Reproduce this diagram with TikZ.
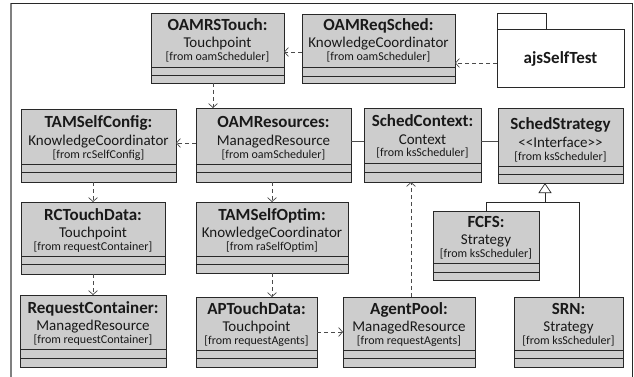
\documentclass[tikz,border=0pt]{standalone}
\usepackage{fontspec}
\setmainfont{Carlito}
\usetikzlibrary{arrows.meta}
\definecolor{boxfill}{RGB}{205,205,205}
\definecolor{boxline}{RGB}{40,40,40}
\definecolor{conn}{RGB}{75,75,75}
\definecolor{txtcol}{RGB}{25,25,25}
\tikzset{
 clsbox/.style={draw=boxline, fill=boxfill, line width=0.8pt, rectangle, inner sep=0pt, outer sep=0pt, anchor=north west},
 pkgbox/.style={draw=boxline, fill=white, line width=0.8pt, rectangle, inner sep=0pt, outer sep=0pt, anchor=north west},
 ttltxt/.style={anchor=base, inner sep=0pt, text=txtcol, font=\fontsize{17}{20}\selectfont\bfseries},
 subtxt/.style={anchor=base, inner sep=0pt, text=txtcol, font=\fontsize{15}{18}\selectfont},
 frmtxt/.style={anchor=base, inner sep=0pt, text=txtcol, font=\fontsize{12}{14}\selectfont},
 dep/.style={draw=conn, line width=0.7pt, dash pattern=on 4pt off 3pt, -{Straight Barb[length=4pt,width=9pt]}},
 assoc/.style={draw=conn, line width=0.7pt},
 gen/.style={draw=boxline, line width=0.7pt, -{Triangle[open,length=10pt,width=13pt]}},
}
\newcommand\umlbox[7]{%
 \node[clsbox, minimum width={(#4-#2)*1pt}, minimum height={(#7-#3)*1pt}] (#1) at (#2,#3) {};
 \draw[boxline, line width=0.8pt] (#2,#5) -- (#4,#5) (#2,#6) -- (#4,#6);
 \coordinate (#1-s) at ({(#2+#4)/2},#5);
}
\newcommand\umltext[4]{%
 \node[ttltxt] (#1-t) at ([yshift=36pt]#1-s) {#2};
 \node[subtxt] (#1-u) at ([yshift=19pt]#1-s) {#3};
 \node[frmtxt] (#1-f) at ([yshift=6pt]#1-s) {#4};
}
\begin{document}
\begin{tikzpicture}[x=1pt, y=-1pt]
\useasboundingbox (0,0) rectangle (634,377);
% frame
\draw[gray, line width=1.3pt] (11,377) -- (11,3);
\draw[boxline, line width=0.8pt] (11,3) -- (632,3) -- (632,377);

% class boxes
\umlbox{oamrs}{151}{13}{284}{67}{75}{83}
\umltext{oamrs}{OAMRSTouch:}{Touchpoint}{[from oamScheduler]}
\umlbox{oamreq}{302}{14}{455}{67}{76}{83}
\umltext{oamreq}{OAMReqSched:}{KnowledgeCoordinator}{[from oamScheduler]}
\umlbox{tamcfg}{21}{109}{176}{164}{172}{182}
\umltext{tamcfg}{TAMSelfConfig:}{KnowledgeCoordinator}{[from rcSelfConfig]}
\umlbox{oamres}{196}{108}{351}{164}{172}{182}
\umltext{oamres}{OAMResources:}{ManagedResource}{[from oamScheduler]}
\umlbox{sctx}{364}{108}{481}{163}{172}{182}
\umltext{sctx}{SchedContext:}{Context}{[from ksScheduler]}
\umlbox{sstrat}{498}{108}{623}{166}{174}{183}
\umltext{sstrat}{SchedStrategy}{{<}{<}Interface{>}{>}}{[from ksScheduler]}
\umlbox{rctouch}{21}{202}{165}{256}{264}{274}
\umltext{rctouch}{RCTouchData:}{Touchpoint}{[from requestContainer]}
\umlbox{tamopt}{196}{202}{348}{256}{264}{273}
\umltext{tamopt}{TAMSelfOptim:}{KnowledgeCoordinator}{[from raSelfOptim]}
\umlbox{fcfs}{433}{211}{539}{263}{272}{280}
\umltext{fcfs}{FCFS:}{Strategy}{[from ksScheduler]}
\umlbox{reqc}{20}{295}{166}{349}{358}{367}
\umltext{reqc}{RequestContainer:}{ManagedResource}{[from requestContainer]}
\umlbox{aptouch}{196}{297}{317}{350}{358}{367}
\umltext{aptouch}{APTouchData:}{Touchpoint}{[from requestAgents]}
\umlbox{agent}{343}{297}{475}{350}{358}{367}
\umltext{agent}{AgentPool:}{ManagedResource}{[from requestAgents]}
\umlbox{srn}{514}{297}{623}{350}{358}{367}
\umltext{srn}{SRN:}{Strategy}{[from ksScheduler]}

% package
\node[pkgbox, minimum width=49pt, minimum height=16pt] (ajstab) at (497,13) {};
\node[pkgbox, minimum width=127pt, minimum height=58pt] (ajs) at (497,29) {};
\node[inner sep=0pt, text=txtcol, font=\fontsize{17}{20}\selectfont\bfseries] (ajslabel) at ([yshift=-1pt]ajs.center) {ajsSelfTest};

% connectors
\coordinate (c1) at ([yshift=-5pt]ajs.west);
\draw[dep] (c1) -- (c1 -| oamreq.east);
\coordinate (c2) at ([yshift=-3.5pt]oamreq.west);
\draw[dep] (c2) -- (c2 -| oamrs.east);
\coordinate (c3) at ([xshift=-4.5pt]oamrs.south);
\draw[dep] (c3) -- (c3 |- oamres.north);
\coordinate (c4) at ([yshift=2pt]oamres.west);
\draw[dep] (c4) -- (c4 -| tamcfg.east);
\coordinate (c5) at ([yshift=4pt]oamres.east);
\draw[assoc] (c5) -- (c5 -| sctx.west);
\coordinate (c6) at ([yshift=4pt]sctx.east);
\draw[assoc] (c6) -- (c6 -| sstrat.west);
\draw[dep] (rctouch.north |- tamcfg.south) -- (rctouch.north);
\draw[dep] (rctouch.south) -- (rctouch.south |- reqc.north);
\draw[dep] (tamopt.north |- oamres.south) -- (tamopt.north);
\draw[dep] (tamopt.south) -- (tamopt.south |- aptouch.north);
\draw[dep] (aptouch.east) -- (aptouch.east -| agent.west);
\coordinate (c7) at ([xshift=2pt]agent.north);
\draw[dep] (c7) -- (c7 |- sctx.south);
% generalization
\coordinate (gtop) at ([xshift=-15.5pt]sstrat.south);
\coordinate (gj) at ([yshift=-19pt]gtop);
\coordinate (srnx) at ([xshift=10.5pt]srn.north);
\draw[gen] (gj) -- (gtop);
\draw[boxline, line width=0.7pt] (fcfs.north) -- (fcfs.north |- gj) -- (srnx |- gj) -- (srnx);
\end{tikzpicture}
\end{document}
